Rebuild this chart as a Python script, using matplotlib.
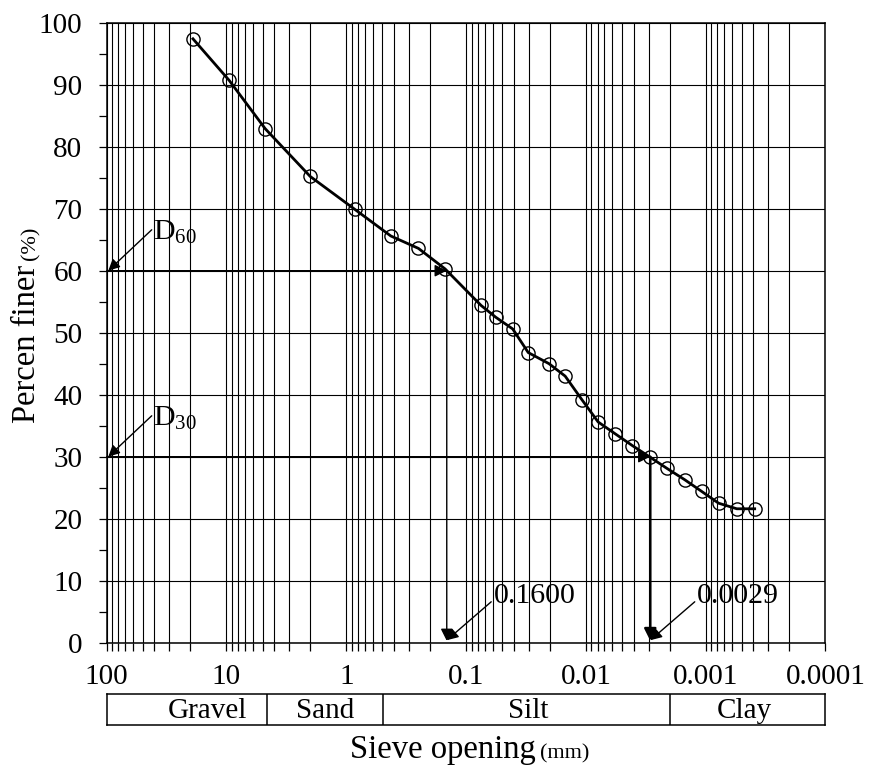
import numpy as np
import matplotlib
matplotlib.use('Agg')
import matplotlib.pyplot as plt
from matplotlib.ticker import FixedLocator, NullFormatter, LogLocator, MultipleLocator

plt.rcParams['font.family'] = ['Liberation Serif', 'DejaVu Serif']
plt.rcParams['mathtext.fontset'] = 'custom'
plt.rcParams['mathtext.rm'] = 'Liberation Serif'
plt.rcParams['mathtext.it'] = 'Liberation Serif:italic'

# ---- data ----
sieve_mm = [19.05, 9.5, 4.75, 2.0, 0.85, 0.425, 0.25, 0.15, 0.075,
            0.0566, 0.0408, 0.0303, 0.0203, 0.0149, 0.0108, 0.0079,
            0.0057, 0.0041, 0.0029, 0.0021, 0.0015, 0.00108, 0.00078,
            0.00055, 0.00039]
percent_finer = [97.4, 90.7, 82.9, 75.2, 69.9, 65.6, 63.6, 60.3, 54.4,
                 52.5, 50.6, 46.8, 45.0, 43.0, 39.2, 35.6,
                 33.7, 31.8, 29.9, 28.1, 26.3, 24.4, 22.5,
                 21.6, 21.6]

x_ticks = [100, 10, 1, 0.1, 0.01, 0.001, 0.0001]
x_tick_labels = ['100', '10', '1', '0.1', '0.01', '0.001', '0.0001']
y_ticks = list(range(0, 101, 10))

class_bounds = [100, 4.6, 0.49, 0.002, 0.0001]
class_names = ['Gravel', 'Sand', 'Silt', 'Clay']
class_label_x = [14.3, 1.51, 0.0305, 0.00048]

d_percent = [60, 30]
d_size = [0.145, 0.0029]
d_names = [r'$\mathrm{D}_{60}$', r'$\mathrm{D}_{30}$']
d_value_labels = ['0.1600', '0.0029']

# ---- figure ----
fig = plt.figure(figsize=(8.70, 7.73), dpi=100)
ax = fig.add_axes([0.12264, 0.16856, 0.8262, 0.80207])

ax.set_xscale('log')
ax.set_xlim(100, 0.0001)
ax.set_ylim(0, 100)

# grid
ax.xaxis.set_major_locator(FixedLocator(x_ticks))
ax.xaxis.set_minor_locator(LogLocator(base=10, subs=np.arange(2, 10), numticks=50))
ax.xaxis.set_minor_formatter(NullFormatter())
ax.set_xticklabels(x_tick_labels)
ax.yaxis.set_major_locator(FixedLocator(y_ticks))
ax.yaxis.set_minor_locator(MultipleLocator(5))

ax.grid(which='major', axis='both', color='black', lw=0.8)
ax.grid(which='minor', axis='x', color='black', lw=0.8)
ax.set_axisbelow(True)

ax.tick_params(axis='both', which='both', direction='out', length=5.5, width=0.9,
               colors='black', labelsize=21)
ax.tick_params(axis='x', pad=10)
ax.tick_params(axis='y', pad=12)
for s in ax.spines.values():
    s.set_linewidth(1.1)
    s.set_color('black')

# curve
ax.plot(sieve_mm, percent_finer, color='black', lw=2.0, zorder=4)
ax.plot(sieve_mm, percent_finer, ls='none', marker='o', ms=9.5, mfc='none',
        mec='black', mew=1.0, zorder=5)

# D60/D30 construction arrows
arrow_kw = dict(arrowstyle='-|>', mutation_scale=18, color='black',
                shrinkA=0, shrinkB=0)
for p, d, vlw in zip(d_percent, d_size, [1.0, 1.8]):
    ax.annotate('', xy=(d, p), xytext=(100, p),
                arrowprops=dict(lw=1.0, **arrow_kw), zorder=6)
    ax.annotate('', xy=(d, 0.3), xytext=(d, p),
                arrowprops=dict(lw=vlw, **arrow_kw), zorder=6)

# labels D60, D30
lab_kw = dict(arrowstyle='-|>', mutation_scale=17, color='black', lw=1.0,
              shrinkA=0, shrinkB=0)
for p, name in zip(d_percent, d_names):
    ax.annotate('', xy=(97, p), xytext=(42.1, p + 6.6),
                arrowprops=lab_kw, zorder=6)
    ax.text(41, p + 5.0, name, fontsize=21.5, ha='left', va='baseline', zorder=7)

for d, lab in zip(d_size, d_value_labels):
    ax.annotate('', xy=(d, 0.4), xytext=(d / 2.35, 6.6),
                arrowprops=lab_kw, zorder=6)
    ax.text(d / 2.45, 6.45, lab, fontsize=21.5, ha='left', va='baseline', zorder=7)

# classification bar
cax = fig.add_axes([0.12264, 0.0621, 0.8262, 0.0397])
cax.set_xscale('log')
cax.set_xlim(100, 0.0001)
cax.set_ylim(0, 1)
cax.set_xticks([])
cax.set_yticks([])
cax.minorticks_off()
for s in cax.spines.values():
    s.set_linewidth(1.1)
for b in class_bounds[1:-1]:
    cax.axvline(b, color='black', lw=1.1)
for name, xl in zip(class_names, class_label_x):
    cax.text(xl, 0.47, name, ha='center', va='center', fontsize=21)

# axis labels with mixed sizes
fig.canvas.draw()
renderer = fig.canvas.get_renderer()

t1 = fig.text(350 / 870, 1 - 758 / 773, 'Sieve opening ', fontsize=23.5,
              ha='left', va='baseline')
bb = t1.get_window_extent(renderer)
fig.text(bb.x1 / fig.bbox.width - 0.004, 1 - 758 / 773, '(mm)', fontsize=16,
         ha='left', va='baseline')

t2 = fig.text(35 / 870, 1 - 423 / 773, 'Percen finer ', fontsize=23.5,
              rotation=90, rotation_mode='anchor', ha='left', va='baseline')
bb2 = t2.get_window_extent(renderer)
fig.text(35 / 870, bb2.y1 / fig.bbox.height - 0.004, '(%)', fontsize=16,
         rotation=90, rotation_mode='anchor', ha='left', va='baseline')

fig.savefig('out.png', dpi=100)
